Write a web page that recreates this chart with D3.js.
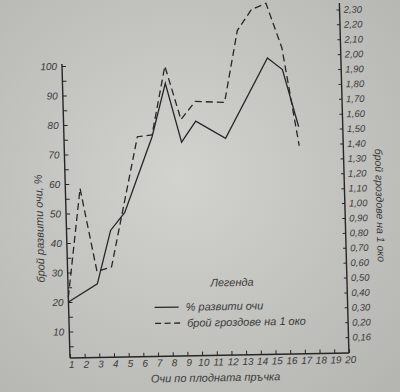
<!DOCTYPE html>
<html>
<head>
<meta charset="utf-8">
<script src="https://d3js.org/d3.v7.min.js"></script>
<style>
  body { margin: 0; background: #c6c6c2; }
  text { font-family: "Liberation Sans", Arial, sans-serif; font-style: italic; fill: #3a3a3a; }
  .tick text { font-size: 10px; }
  .title { font-size: 11px; }
</style>
</head>
<body>
<div id="chart"></div>
<script>
// eyes along the fruiting cane
var budX = [1, 3, 4, 5, 7, 8, 9, 10, 12, 15, 16, 17];
var budPct = [20, 26, 44, 50, 75.5, 93.5, 73.5, 80.5, 74.5, 101.5, 97.5, 78];
var clusterX = [1, 2, 3, 4, 6, 7, 8, 9, 10, 12, 13, 14, 15, 16, 17];
var clusterPerBud = [0.40, 1.13, 0.57, 0.60, 1.47, 1.48, 1.94, 1.58, 1.70, 1.69, 2.17, 2.31, 2.35, 2.05, 1.39];

var xTickVals = [1, 2, 3, 4, 5, 6, 7, 8, 9, 10, 11, 12, 13, 14, 15, 16, 17, 18, 19, 20];
var leftTickVals = [10, 20, 30, 40, 50, 60, 70, 80, 90, 100];
var rightTickVals = [0.1, 0.2, 0.3, 0.4, 0.5, 0.6, 0.7, 0.8, 0.9, 1.0, 1.1, 1.2, 1.3, 1.4, 1.5, 1.6, 1.7, 1.8, 1.9, 2.0, 2.1, 2.2, 2.3];
var rightTickLabels = ["0,16", "0,20", "0,30", "0,40", "0,50", "0,60", "0,70", "0,80", "0,90", "1,00", "1,10", "1,20", "1,30", "1,40", "1,50", "1,60", "1,70", "1,80", "1,90", "2,00", "2,10", "2,20", "2,30"];

var width = 400, height = 392;
var svg = d3.select('#chart').append('svg')
    .attr('width', width)
    .attr('height', height);

// paper background
var grad = svg.append('defs').append('radialGradient')
    .attr('id', 'paper').attr('cx', '45%').attr('cy', '45%').attr('r', '75%');
grad.append('stop').attr('offset', '0%').attr('stop-color', '#d2d2ce');
grad.append('stop').attr('offset', '100%').attr('stop-color', '#b5b5b1');
svg.append('rect').attr('width', width).attr('height', height).attr('fill', 'url(#paper)');

// the photo is slightly tilted
var g = svg.append('g')
    .attr('transform', 'translate(70,358) rotate(-1.03) skewX(0.54)');

var x = d3.scaleLinear().domain([1, 20]).range([0, 279]);
var yL = d3.scaleLinear().domain([0, 100]).range([3, -292]);
var yR = d3.scaleLinear().domain([0, 2.3]).range([-1, -343.7]);

var ink = '#262626';

// axes
g.append('g')
    .call(d3.axisLeft(yL)
        .tickValues(d3.range(5, 101, 5))
        .tickSize(-4).tickPadding(5)
        .tickFormat(function(d) { return leftTickVals.indexOf(d) >= 0 ? d : ''; }));

g.append('g')
    .attr('transform', 'translate(' + x(20) + ',0)')
    .call(d3.axisRight(yR)
        .tickValues(rightTickVals)
        .tickSize(-3).tickPadding(4)
        .tickFormat(function(d, i) { return rightTickLabels[i]; }))
    .selectAll('text').style('font-size', '9.5px');

var bottomAxis = g.append('g')
    .call(d3.axisBottom(x)
        .tickValues(xTickVals)
        .tickSize(-4).tickPadding(3));
bottomAxis.selectAll('text').attr('dx', 1);

g.selectAll('.domain').remove();
g.selectAll('.tick line').attr('stroke', ink).attr('stroke-width', 1);

g.append('line').attr('x1', 0).attr('y1', 0).attr('x2', 0).attr('y2', -294)
    .attr('stroke', ink).attr('stroke-width', 1.4);
g.append('line').attr('x1', 0).attr('y1', 0).attr('x2', x(20)).attr('y2', 0)
    .attr('stroke', ink).attr('stroke-width', 1.4);
g.append('line').attr('x1', x(20)).attr('y1', 0).attr('x2', x(20)).attr('y2', -350)
    .attr('stroke', ink).attr('stroke-width', 1.4);

// series
var solid = d3.line()
    .x(function(d, i) { return x(budX[i]); })
    .y(function(d) { return yL(d); });
var dashed = d3.line()
    .x(function(d, i) { return x(clusterX[i]); })
    .y(function(d) { return yR(d); });

g.append('path').attr('d', solid(budPct))
    .attr('fill', 'none').attr('stroke', ink).attr('stroke-width', 1.3);
g.append('path').attr('d', dashed(clusterPerBud))
    .attr('fill', 'none').attr('stroke', ink).attr('stroke-width', 1.3)
    .attr('stroke-dasharray', '7,4');

// titles
g.append('text').attr('class', 'title')
    .attr('transform', 'translate(-27,-130) rotate(-90)')
    .attr('text-anchor', 'middle').attr('dy', '0.35em')
    .text('брой развити очи, %');
g.append('text').attr('class', 'title')
    .attr('transform', 'translate(314,-147) rotate(90)')
    .attr('text-anchor', 'middle').attr('dy', '0.35em')
    .style('font-size', '10.5px')
    .text('брой гроздове на 1 око');
g.append('text').attr('class', 'title')
    .attr('x', 145).attr('y', 26)
    .attr('text-anchor', 'middle')
    .text('Очи по плодната пръчка');

// legend
var legend = g.append('g');
legend.append('text').attr('class', 'title')
    .attr('x', 164).attr('y', -69).attr('text-anchor', 'middle')
    .text('Легенда');
legend.append('line').attr('x1', 86).attr('x2', 110).attr('y1', -49).attr('y2', -49)
    .attr('stroke', ink).attr('stroke-width', 1.3);
legend.append('text').attr('class', 'title')
    .attr('x', 117).attr('y', -49).attr('dy', '0.35em')
    .text('% развити очи');
legend.append('line').attr('x1', 86).attr('x2', 111).attr('y1', -33).attr('y2', -33)
    .attr('stroke', ink).attr('stroke-width', 1.3).attr('stroke-dasharray', '6,3.5');
legend.append('text').attr('class', 'title')
    .attr('x', 118).attr('y', -33).attr('dy', '0.35em')
    .text('брой гроздове на 1 око');
</script>
</body>
</html>
